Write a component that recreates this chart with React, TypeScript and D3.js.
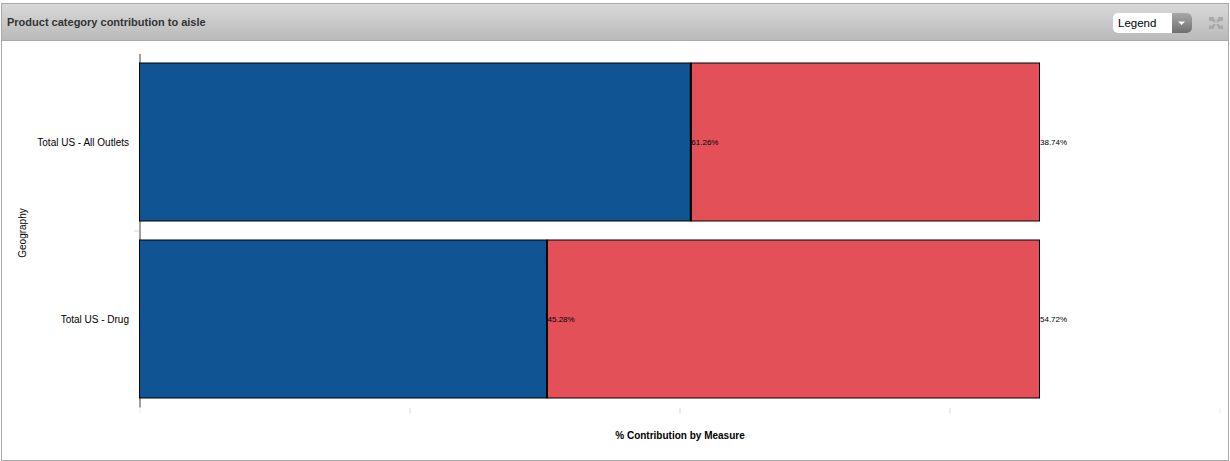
import React from "react";
import * as d3 from "d3";

const title = "Product category contribution to aisle";
const geographies = ["Total US - All Outlets", "Total US - Drug"];
const measureA = [61.26, 45.28];
const measureB = [38.74, 54.72];
const xTicks = [0, 30, 60, 90, 120];
const xTitle = "% Contribution by Measure";
const yTitle = "Geography";
const blue = "#115493";
const red = "#e35058";

const FONT = "Arial, 'Liberation Sans', sans-serif";

export default function App() {
  const x = d3.scaleLinear().domain([0, 120]).range([139.5, 1219.5]);
  const y = d3.scaleBand<string>().domain(geographies).range([53.5, 407.5]).paddingInner(19 / 177).paddingOuter(9.5 / 177);
  const bw = y.bandwidth();
  return (
    <svg width={1230} height={461} style={{ position: "absolute", left: 0, top: 0, display: "block" }} fontFamily={FONT}>
      <defs>
        <linearGradient id="hdr" x1="0" x2="0" y1="0" y2="1">
          <stop offset="0" stopColor="#d9d9d9" />
          <stop offset="1" stopColor="#b9b9b9" />
        </linearGradient>
        <linearGradient id="btn" x1="0" x2="0" y1="0" y2="1">
          <stop offset="0" stopColor="#a8a8a8" />
          <stop offset="1" stopColor="#6f6f6f" />
        </linearGradient>
      </defs>
      <rect x={1.5} y={3.5} width={1227} height={457} fill="#fff" stroke="#a9a9a9" />
      <rect x={1.5} y={3.5} width={1227} height={37} fill="url(#hdr)" stroke="#a9a9a9" />
      <text x={7} y={26} fontSize={11} fontWeight="bold" fill="#333">{title}</text>

      {/* legend dropdown */}
      <rect x={1113} y={13} width={79} height={20} rx={5} fill="#fff" />
      <path d="M1172 13h15a5 5 0 0 1 5 5v10a5 5 0 0 1-5 5h-15z" fill="url(#btn)" />
      <path d="M1178 21.5h7l-3.5 3.5z" fill="#fff" />
      <text x={1118} y={27} fontSize={11.5} fill="#000">Legend</text>
      <g fill="#a9a9a9">
        <path d="M1209 17h5v1.5l1.5 1.5v2.5h-2l-1.5-1.5h-3z" />
        <path d="M1223 17h-5v1.5l-1.5 1.5v2.5h2l1.5-1.5h3z" />
        <path d="M1209 29h5v-1.5l1.5-1.5v-2h-2l-1.5 1.5h-3z" />
        <path d="M1223 29h-5v-1.5l-1.5-1.5v-2h2l1.5 1.5h3z" />
      </g>

      {/* axes */}
      <line x1={140} x2={140} y1={54} y2={407.5} stroke="#a0a0a0" strokeWidth={2} />
      {xTicks.map((t) => (
        <line key={t} x1={x(t) + 0.5} x2={x(t) + 0.5} y1={408} y2={413} stroke="#e4ebf4" strokeWidth={t === 0 || t === 120 ? 1 : 2} />
      ))}
      <line x1={134} x2={139} y1={231} y2={231} stroke="#e4ebf4" strokeWidth={2} />

      {/* bars */}
      {geographies.map((g, i) => {
        const top = y(g)!;
        const mid = top + bw / 2;
        return (
          <g key={g}>
            <rect x={x(0)} y={top} width={x(measureA[i]) - x(0)} height={bw} fill={blue} stroke="#000" strokeWidth={1} />
            <rect x={x(measureA[i])} y={top} width={x(measureA[i] + measureB[i]) - x(measureA[i])} height={bw} fill={red} stroke="#000" strokeWidth={1} />
            <line x1={x(measureA[i])} x2={x(measureA[i])} y1={top} y2={top + bw} stroke="#000" strokeWidth={2} />
            <text x={129} y={mid + 3.5} textAnchor="end" fontSize={10} fill="#000">{g}</text>
            <text x={x(measureA[i]) + 0.5} y={mid + 3} fontSize={8} fill="#000">{measureA[i].toFixed(2)}%</text>
            <text x={x(measureA[i] + measureB[i]) + 0.5} y={mid + 3} fontSize={8} fill="#000">{measureB[i].toFixed(2)}%</text>
          </g>
        );
      })}

      <text x={680} y={439} textAnchor="middle" fontSize={10} fontWeight="bold" fill="#000">{xTitle}</text>
      <text transform="translate(26 233) rotate(-90)" textAnchor="middle" fontSize={10} fill="#000">{yTitle}</text>
    </svg>
  );
}
